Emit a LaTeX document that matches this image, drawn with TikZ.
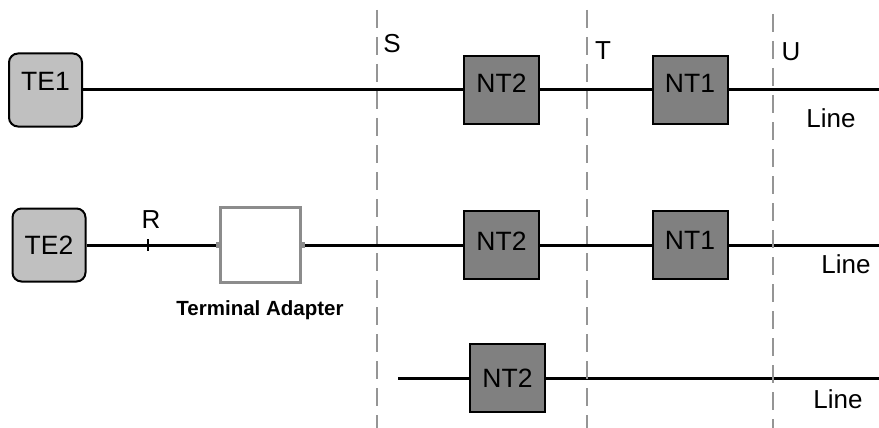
\documentclass[tikz,border=0pt]{standalone}
\usepackage{fontspec}
\setmainfont{Liberation Sans}
\usepackage{xcolor}
\usepackage{tikz}

\definecolor{tegray}{HTML}{C0C0C0}
\definecolor{ntgray}{HTML}{808080}
\definecolor{tagray}{HTML}{8C8C8C}
\definecolor{dashgray}{HTML}{959595}

\begin{document}
\begin{tikzpicture}[x=1pt,y=-1pt,
    te/.style={draw,line width=2pt,rounded corners=9pt,fill=tegray,minimum width=73pt,minimum height=73pt,inner sep=0pt,font=\fontsize{26.5}{30}\selectfont},
    nt/.style={draw,line width=2pt,fill=ntgray,minimum width=75pt,minimum height=68pt,inner sep=0pt,font=\fontsize{26.5}{30}\selectfont},
    ta/.style={draw=tagray,line width=3pt,minimum width=80pt,minimum height=75pt,inner sep=0pt},
    port/.style={fill=tagray,minimum size=6pt,inner sep=0pt},
    lbl/.style={inner sep=0pt,font=\fontsize{26}{30}\selectfont},
    wire/.style={line width=3pt},
    iface/.style={dashgray,line width=2pt,dash pattern=on 18pt off 9pt}]

    \useasboundingbox (0,0) rectangle (879,428);

    % The boxes
    \node [te,text depth=17pt] at (45.5,90) (TE1) {TE1};
    \node [te] at (49,245) (TE2) {TE2};
    \node [ta] at (260.5,245) (TA) {};
    \node [port] at (TA.west) (TAin) {};
    \node [port] at (TA.east) (TAout) {};
    \node [nt,text depth=14pt] at (501.5,90) (NT2a) {NT2};
    \node [nt,text depth=14pt] at (690,90) (NT1a) {NT1};
    \node [nt,text depth=8pt] at (501.5,245) (NT2b) {NT2};
    \node [nt,text depth=10pt] at (690,245) (NT1b) {NT1};
    \node [nt] at (507.5,378) (NT2c) {NT2};

    % Line ends
    \coordinate (enda) at (879,90);
    \coordinate (endb) at (879,245);
    \coordinate (startc) at (398,378);
    \coordinate (endc) at (879,378);
    \coordinate (Rp) at (148,245);

    % Wires
    \path[wire]
    (TE1) edge (NT2a)
    (NT2a) edge (NT1a)
    (NT1a) edge (enda)
    (TE2) edge (TAin)
    (TAout) edge (NT2b)
    (NT2b) edge (NT1b)
    (NT1b) edge (endb)
    (startc) edge (NT2c)
    (NT2c) edge (endc);
    \draw[line width=2pt] (148,239) -- (148,251);

    % Reference points
    \draw[iface] (377,10) -- (377,428);
    \draw[iface] (587,10) -- (587,428);
    \draw[iface] (773,14) -- (773,428);

    % Labels
    \node [lbl] at (392,44) (S) {S};
    \node [lbl] at (603,51) (T) {T};
    \node [lbl] at (791,52) (U) {U};
    \node [lbl] at (151,220) (R) {R};
    \node [lbl] at (831,118) (linea) {Line};
    \node [lbl] at (846,264) (lineb) {Line};
    \node [lbl] at (838,399) (linec) {Line};
    \node [inner sep=0pt,anchor=base,font=\bfseries\fontsize{20.5}{24}\selectfont] at (260,315) (TAlbl) {Terminal Adapter};
\end{tikzpicture}
\end{document}
